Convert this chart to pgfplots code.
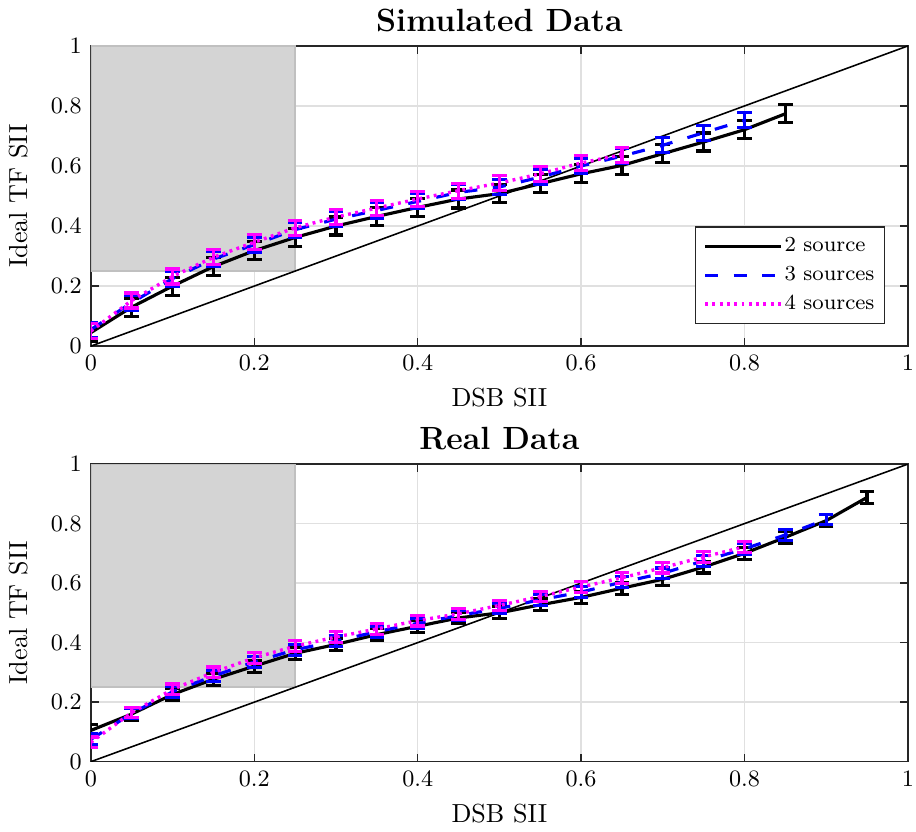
\documentclass[border=0pt]{standalone}
\usepackage{pgfplots}
\pgfplotsset{compat=1.18}
\usepackage{pgfplotstable}
\definecolor{gridgray}{RGB}{224,224,224}
\definecolor{boxgray}{RGB}{212,212,212}
\definecolor{boxedge}{RGB}{192,192,192}
\definecolor{axisgray}{RGB}{38,38,38}
\definecolor{mag}{RGB}{255,0,255}
\definecolor{blu}{RGB}{0,0,255}

\pgfplotstableread{
x y e
0 0.045 0.03
0.05 0.13 0.03
0.1 0.20 0.03
0.15 0.265 0.03
0.2 0.318 0.03
0.25 0.362 0.03
0.3 0.400 0.03
0.35 0.432 0.03
0.4 0.462 0.03
0.45 0.490 0.03
0.5 0.508 0.03
0.55 0.541 0.03
0.6 0.574 0.03
0.65 0.602 0.03
0.7 0.641 0.03
0.75 0.680 0.03
0.8 0.721 0.03
0.85 0.774 0.03
}\simtwo
\pgfplotstableread{
x y e
0 0.055 0.025
0.05 0.145 0.025
0.1 0.225 0.025
0.15 0.29 0.025
0.2 0.338 0.025
0.25 0.388 0.025
0.3 0.423 0.025
0.35 0.452 0.025
0.4 0.482 0.025
0.45 0.512 0.025
0.5 0.530 0.025
0.55 0.563 0.025
0.6 0.600 0.025
0.65 0.633 0.025
0.7 0.669 0.025
0.75 0.711 0.025
0.8 0.752 0.025
}\simthree
\pgfplotstableread{
x y e
0 0.05 0.025
0.05 0.152 0.025
0.1 0.232 0.025
0.15 0.296 0.025
0.2 0.346 0.025
0.25 0.394 0.025
0.3 0.43 0.025
0.35 0.46 0.025
0.4 0.49 0.025
0.45 0.518 0.025
0.5 0.543 0.025
0.55 0.574 0.025
0.6 0.610 0.025
0.65 0.638 0.025
}\simfour
\pgfplotstableread{
x y e
0 0.105 0.02
0.05 0.16 0.02
0.1 0.226 0.02
0.15 0.277 0.02
0.2 0.321 0.02
0.25 0.364 0.02
0.3 0.394 0.02
0.35 0.427 0.02
0.4 0.455 0.02
0.45 0.483 0.02
0.5 0.500 0.02
0.55 0.527 0.02
0.6 0.552 0.02
0.65 0.583 0.02
0.7 0.613 0.02
0.75 0.654 0.02
0.8 0.700 0.02
0.85 0.754 0.02
0.9 0.810 0.02
0.95 0.888 0.02
}\realtwo
\pgfplotstableread{
x y e
0 0.075 0.018
0.05 0.162 0.018
0.1 0.235 0.018
0.15 0.288 0.018
0.2 0.335 0.018
0.25 0.376 0.018
0.3 0.405 0.018
0.35 0.437 0.018
0.4 0.465 0.018
0.45 0.491 0.018
0.5 0.515 0.018
0.55 0.544 0.018
0.6 0.570 0.018
0.65 0.603 0.018
0.7 0.633 0.018
0.75 0.675 0.018
0.8 0.715 0.018
0.85 0.762 0.018
0.9 0.814 0.018
}\realthree
\pgfplotstableread{
x y e
0 0.065 0.018
0.05 0.165 0.018
0.1 0.243 0.018
0.15 0.300 0.018
0.2 0.349 0.018
0.25 0.388 0.018
0.3 0.419 0.018
0.35 0.446 0.018
0.4 0.474 0.018
0.45 0.497 0.018
0.5 0.525 0.018
0.55 0.555 0.018
0.6 0.587 0.018
0.65 0.618 0.018
0.7 0.652 0.018
0.75 0.688 0.018
0.8 0.722 0.018
}\realfour

\pgfplotsset{
  myaxis/.style={
    width=313pt, height=115pt, scale only axis,
    xmin=0, xmax=1, ymin=0, ymax=1,
    xtick={0,0.2,0.4,0.6,0.8,1}, ytick={0,0.2,0.4,0.6,0.8,1},
    grid=major, grid style={gridgray, line width=0.5pt},
    tick align=inside, xtick pos=both, ytick pos=both,
    major tick length=3pt,
    axis line style={axisgray, line width=0.6pt},
    tick style={axisgray, line width=0.6pt},
    ticklabel style={font=\small},
    xticklabel style={inner xsep=0.8pt},
    label style={font=\normalsize},
    ylabel shift=2pt,
    title style={font=\fontsize{12.3}{14}\selectfont\bfseries, yshift=-4pt},
    xlabel={DSB SII}, ylabel={Ideal TF SII},
    legend image code/.code={\draw[#1] (5pt,0pt) -- (34pt,0pt);},
  },
  ebar/.style={error bars/.cd, y dir=both, y explicit,
    error mark=|,
    error bar style={solid, line width=1.2pt},
    error mark options={solid, line width=1.2pt, mark size=2.8pt}},
  s2/.style={black, line width=1.2pt, solid},
  s3/.style={blu, line width=1.2pt, dash pattern=on 5pt off 6pt},
  s4/.style={mag, line width=1.3pt, dash pattern=on 1.1pt off 1.7pt},
}

\begin{document}
\begin{tikzpicture}
\begin{axis}[myaxis, at={(0,0)}, anchor=north west, title={Simulated Data},
  legend style={at={(0.972,0.073)}, anchor=south east, draw=axisgray, line width=0.5pt,
    font=\fontsize{8.2}{9.5}\selectfont, cells={anchor=west}, row sep=0pt,
    nodes={inner xsep=0.8pt}, inner xsep=3pt, inner ysep=2pt}]
\addplot[fill=boxgray, draw=boxedge, line width=0.6pt, forget plot] coordinates {(0,0.25) (0.25,0.25) (0.25,1) (0,1)} -- cycle;
\addplot[black, line width=0.6pt, forget plot] coordinates {(0,0) (1,1)};
\addplot[s2, forget plot, ebar] table[x=x, y=y, y error=e] {\simtwo};
\addplot[s3, forget plot, ebar] table[x=x, y=y, y error=e] {\simthree};
\addplot[s4, forget plot, ebar] table[x=x, y=y, y error=e] {\simfour};
\addlegendimage{s2}\addlegendentry{2 source}
\addlegendimage{s3}\addlegendentry{3 sources}
\addlegendimage{s4}\addlegendentry{4 sources}
\end{axis}
\begin{axis}[myaxis, at={(0,-160.2pt)}, anchor=north west, title={Real Data}, height=114pt]
\addplot[fill=boxgray, draw=boxedge, line width=0.6pt, forget plot] coordinates {(0,0.25) (0.25,0.25) (0.25,1) (0,1)} -- cycle;
\addplot[black, line width=0.6pt, forget plot] coordinates {(0,0) (1,1)};
\addplot[s2, forget plot, ebar] table[x=x, y=y, y error=e] {\realtwo};
\addplot[s3, forget plot, ebar] table[x=x, y=y, y error=e] {\realthree};
\addplot[s4, forget plot, ebar] table[x=x, y=y, y error=e] {\realfour};
\end{axis}
\end{tikzpicture}
\end{document}
